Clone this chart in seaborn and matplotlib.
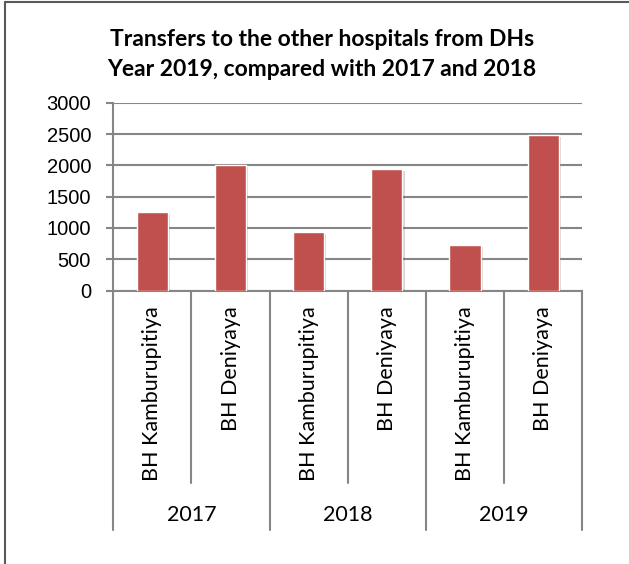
import matplotlib
matplotlib.use("Agg")
import matplotlib.pyplot as plt
import matplotlib.transforms as mtransforms
import matplotlib.patheffects as pe
from matplotlib.lines import Line2D
import seaborn as sns
import pandas as pd

# ---- data ----
years = ["2017", "2017", "2018", "2018", "2019", "2019"]
hospitals = ["BH Kamburupitiya", "BH Deniyaya",
             "BH Kamburupitiya", "BH Deniyaya",
             "BH Kamburupitiya", "BH Deniyaya"]
values = [1250, 2000, 935, 1945, 725, 2480]
year_labels = ["2017", "2018", "2019"]
yticks = [0, 500, 1000, 1500, 2000, 2500, 3000]
title_lines = ["Transfers to the other hospitals from DHs",
               "Year 2019, compared with 2017 and 2018"]

df = pd.DataFrame({"year": years, "hospital": hospitals, "value": values})
df["key"] = df["year"] + " " + df["hospital"]
order = list(df["key"])

sns.set_theme(style="white")
plt.rcParams["font.family"] = ["Lato", "DejaVu Sans"]

GRAY = "#868686"
W, H = 629, 564
fig = plt.figure(figsize=(6.29, 5.64), dpi=100)
ax = fig.add_axes([0.1801, 0.4849, 0.7456, 0.333])

sns.barplot(data=df, x="key", y="value", order=order, color="#C0504D",
            saturation=1, width=0.4, errorbar=None, ax=ax, zorder=3)
for p in ax.patches:
    p.set_path_effects([pe.SimplePatchShadow(offset=(1.5, -1.5), alpha=0.18), pe.Normal()])

ax.set_xlim(-0.5, len(order) - 0.5)
ax.set_ylim(0, 3000)
ax.set_yticks(yticks)
ax.set_yticklabels([str(v) for v in yticks], fontfamily="Liberation Sans", fontsize=14.5)
ax.set_xticks(range(len(order)))
ax.set_xticklabels(hospitals, rotation=90, fontfamily="Lato", fontsize=15.5)
ax.set_xlabel("")
ax.set_ylabel("")

ax.yaxis.grid(True, color=GRAY, linewidth=1.5, zorder=0)
ax.xaxis.grid(False)
ax.set_axisbelow(True)
for s in ["top", "right"]:
    ax.spines[s].set_visible(False)
for s in ["left", "bottom"]:
    ax.spines[s].set_color(GRAY)
    ax.spines[s].set_linewidth(1.5)
ax.tick_params(axis="y", left=True, length=5, width=1.5, color=GRAY, pad=11, labelcolor="black")
ax.tick_params(axis="x", bottom=False, length=0, pad=11.5, labelcolor="black")

trans = mtransforms.blended_transform_factory(ax.transData, ax.transAxes)
for i in range(len(order) + 1):
    depth = -1.275 if i % 2 == 0 else -1.025
    ax.plot([i - 0.5, i - 0.5], [0, depth], transform=trans, clip_on=False,
            color=GRAY, linewidth=1.5)
for k, yl in enumerate(year_labels):
    ax.text(2 * k + 0.5, -1.195, yl, transform=trans, ha="center", va="center",
            fontsize=15.5, fontfamily="Lato", color="black")

for line, base in zip(title_lines, [46.5, 76]):
    fig.text(322 / W, 1 - base / H, line, ha="center", va="baseline", fontsize=16.5,
             fontweight="bold", fontfamily="Lato", color="black")

# chart frame (left and top edges visible)
fig.add_artist(Line2D([4.5 / W, 4.5 / W], [0, 1 - 2 / H], transform=fig.transFigure,
                      color="#595959", linewidth=1.5))
fig.add_artist(Line2D([4.5 / W, 1], [1 - 2 / H, 1 - 2 / H], transform=fig.transFigure,
                      color="#595959", linewidth=1.5))

fig.savefig("out.png", dpi=100)
